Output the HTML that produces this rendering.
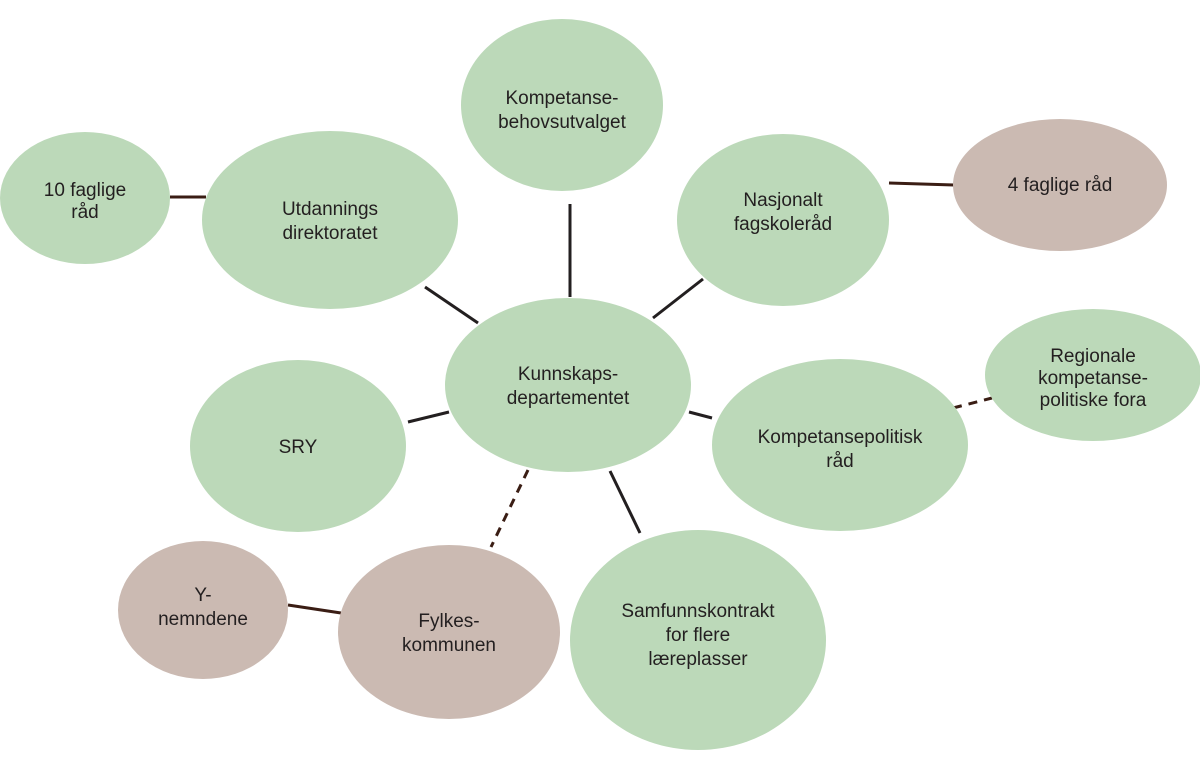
<!DOCTYPE html>
<html><head><meta charset="utf-8"><style>
html,body{margin:0;padding:0;background:#fff;}
svg{display:block;}
text{font-family:"Liberation Sans",sans-serif;font-size:19px;fill:#231f20;text-anchor:middle;}
</style></head><body>
<svg width="1200" height="760" viewBox="0 0 1200 760" xmlns="http://www.w3.org/2000/svg">
<g stroke-width="3" fill="none">
<line x1="570" y1="204" x2="570" y2="297" stroke="#231f20"/>
<line x1="425" y1="287" x2="478" y2="323" stroke="#231f20"/>
<line x1="703" y1="279" x2="653" y2="318" stroke="#231f20"/>
<line x1="408" y1="422" x2="449" y2="412" stroke="#231f20"/>
<line x1="689" y1="412" x2="712" y2="418" stroke="#231f20"/>
<line x1="610" y1="471" x2="640" y2="533" stroke="#231f20"/>
<line x1="528" y1="470" x2="491" y2="547" stroke="#3a1d14" stroke-dasharray="9,7"/>
<line x1="170" y1="197" x2="206" y2="197" stroke="#3a1d14"/>
<line x1="889" y1="183" x2="954" y2="185" stroke="#3a1d14"/>
<line x1="953" y1="408" x2="992" y2="398" stroke="#3a1d14" stroke-dasharray="9,7"/>
<line x1="288" y1="605" x2="341" y2="613" stroke="#3a1d14"/>
</g>
<g fill="#bcd9b9">
<ellipse cx="85" cy="198" rx="85" ry="66"/>
<ellipse cx="330" cy="220" rx="128" ry="89"/>
<ellipse cx="562" cy="105" rx="101" ry="86"/>
<ellipse cx="783" cy="220" rx="106" ry="86"/>
<ellipse cx="568" cy="385" rx="123" ry="87"/>
<ellipse cx="1093" cy="375" rx="108" ry="66"/>
<ellipse cx="298" cy="446" rx="108" ry="86"/>
<ellipse cx="840" cy="445" rx="128" ry="86"/>
<ellipse cx="698" cy="640" rx="128" ry="110"/>
</g>
<g fill="#cbbab2">
<ellipse cx="1060" cy="185" rx="107" ry="66"/>
<ellipse cx="203" cy="610" rx="85" ry="69"/>
<ellipse cx="449" cy="632" rx="111" ry="87"/>
</g>
<text x="85" y="196">10 faglige</text><text x="85" y="218">råd</text>
<text x="330" y="215">Utdannings</text><text x="330" y="239">direktoratet</text>
<text x="562" y="104">Kompetanse-</text><text x="562" y="128">behovsutvalget</text>
<text x="783" y="206">Nasjonalt</text><text x="783" y="230">fagskoleråd</text>
<text x="1060" y="191">4 faglige råd</text>
<text x="568" y="380">Kunnskaps-</text><text x="568" y="404">departementet</text>
<text x="1093" y="362">Regionale</text><text x="1093" y="384">kompetanse-</text><text x="1093" y="406">politiske fora</text>
<text x="298" y="453">SRY</text>
<text x="840" y="443">Kompetansepolitisk</text><text x="840" y="467">råd</text>
<text x="203" y="601">Y-</text><text x="203" y="625">nemndene</text>
<text x="449" y="627">Fylkes-</text><text x="449" y="651">kommunen</text>
<text x="698" y="617">Samfunnskontrakt</text><text x="698" y="641">for flere</text><text x="698" y="665">læreplasser</text>
</svg>
</body></html>
